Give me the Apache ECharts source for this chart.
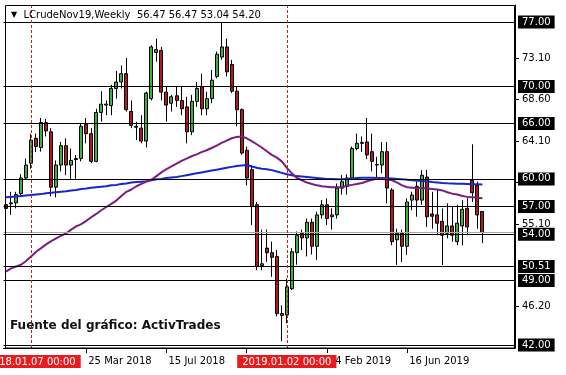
<!DOCTYPE html>
<html><head><meta charset="utf-8">
<script src="https://cdn.jsdelivr.net/npm/echarts@6/dist/echarts.min.js"></script>
<style>html,body{margin:0;padding:0;background:#fff}#c{width:566px;height:375px}</style>
</head><body><div id="c"></div>
<script>
// ---- data ----
const symbolName = 'LCrudeNov19,Weekly';
const lastOHLC = ['56.47', '56.47', '53.04', '54.20'];
const firstWeek = '2017-12-03';   // first weekly bar
const slotCount = 102;            // bars that fit on the chart (incl. empty right margin)

// [open, close, low, high]
const candles = [
  [57.2, 56.8, 54.8, 57.4], [57.3, 57.4, 56.1, 58.6], [57.4, 58.3, 56.8, 58.6], [58.4, 60.1, 58.1, 60.5],
  [60.1, 61.5, 59.9, 62.2], [61.7, 64.2, 61.1, 64.9], [64.4, 63.5, 62.9, 64.9], [63.4, 66.1, 62.95, 66.6],
  [66.1, 65.2, 64.6, 66.5], [65.1, 59.1, 58.1, 65.5], [59.1, 61.5, 58.0, 62.0], [61.5, 63.6, 60.8, 64.0],
  [63.6, 61.5, 60.4, 64.4], [61.5, 62.0, 59.9, 63.3], [62.1, 62.2, 60.0, 62.6], [62.2, 65.7, 61.9, 66.0],
  [65.9, 64.9, 63.85, 66.6], [64.9, 61.9, 61.7, 65.5], [61.9, 67.2, 61.8, 67.6], [67.2, 68.1, 66.2, 69.5],
  [68.0, 68.1, 66.9, 68.5], [67.95, 69.8, 66.9, 70.2], [69.8, 70.5, 68.7, 71.7], [70.5, 71.4, 69.8, 72.3],
  [71.4, 67.5, 67.3, 73.1], [67.3, 65.8, 65.5, 68.5], [65.7, 65.6, 64.2, 66.2], [65.5, 64.1, 63.85, 66.9],
  [64.1, 69.3, 63.4, 69.45], [68.7, 74.3, 68.5, 74.5], [73.7, 74.0, 72.7, 75.2], [73.9, 69.4, 68.5, 74.3],
  [69.4, 68.0, 66.2, 70.0], [68.2, 68.9, 67.3, 69.1], [69.0, 68.5, 67.8, 70.0], [68.5, 67.6, 66.9, 70.0],
  [67.8, 65.1, 63.85, 68.9], [65.1, 68.4, 64.75, 69.1], [68.4, 69.8, 67.8, 70.5], [70.0, 67.6, 66.9, 71.4],
  [67.6, 68.7, 66.9, 69.45], [68.7, 70.7, 68.2, 71.8], [71.1, 73.5, 70.9, 73.8], [73.2, 74.3, 72.9, 76.95],
  [74.3, 71.6, 71.1, 75.2], [72.4, 69.5, 69.3, 72.9], [69.5, 67.5, 65.7, 70.0], [67.5, 62.8, 62.6, 67.65],
  [63.1, 60.1, 59.3, 63.5], [61.0, 57.0, 55.0, 61.5], [57.2, 50.5, 50.1, 57.5], [50.6, 50.8, 50.1, 54.5],
  [52.5, 52.0, 51.0, 54.5], [52.0, 51.5, 49.4, 53.2], [51.6, 45.4, 45.1, 52.3], [45.4, 45.2, 42.4, 46.3],
  [45.25, 48.3, 44.35, 49.2], [48.1, 52.1, 47.95, 52.5], [52.0, 53.9, 50.7, 54.3], [54.1, 53.6, 52.3, 54.5],
  [53.6, 55.3, 51.6, 55.7], [55.3, 52.7, 51.8, 55.7], [52.7, 56.1, 51.2, 56.45], [56.1, 57.2, 55.7, 57.7],
  [57.2, 55.7, 55.0, 57.9], [55.9, 56.1, 54.5, 56.8], [56.1, 59.0, 55.7, 59.5], [59.0, 59.7, 58.3, 60.4],
  [59.2, 60.1, 58.3, 60.5], [60.1, 63.3, 59.9, 63.5], [63.3, 63.85, 63.1, 64.9], [63.85, 63.95, 62.95, 64.6],
  [64.0, 62.6, 62.15, 66.6], [62.95, 61.9, 60.8, 64.9], [61.5, 61.55, 60.2, 62.4], [61.5, 62.95, 60.6, 64.0],
  [62.95, 59.0, 57.35, 64.0], [58.8, 53.2, 52.8, 59.0], [53.4, 54.1, 50.67, 54.6], [54.1, 52.7, 51.0, 54.5],
  [52.7, 57.5, 51.75, 57.9], [57.7, 58.25, 56.6, 58.6], [59.2, 57.7, 55.9, 59.7], [57.7, 60.4, 57.2, 60.96],
  [60.2, 55.9, 54.8, 60.96], [56.2, 55.95, 54.6, 58.6], [56.1, 55.2, 53.9, 58.8], [55.4, 53.9, 50.67, 56.8],
  [54.1, 54.9, 53.56, 57.35], [54.9, 53.9, 53.2, 57.0], [53.2, 55.2, 52.8, 57.2], [54.9, 56.7, 52.8, 57.7],
  [56.8, 54.8, 53.9, 57.9], [59.85, 58.5, 57.5, 63.75], [59.3, 56.1, 54.6, 59.7], [56.47, 54.20, 53.04, 56.47]
];

const maPurple = [
  49.95, 50.3, 50.5, 50.7, 51.1, 51.6, 52.1, 52.5, 52.9, 53.25, 53.55, 53.85, 54.1, 54.5, 54.85, 55.1,
  55.45, 55.85, 56.2, 56.6, 56.95, 57.3, 57.65, 58.15, 58.6, 58.85, 59.2, 59.45, 59.7, 59.9, 60.3, 60.7,
  61.05, 61.35, 61.65, 61.95, 62.2, 62.45, 62.65, 62.9, 63.1, 63.35, 63.6, 63.9, 64.15, 64.4, 64.55, 64.6,
  64.4, 64.1, 63.75, 63.4, 63.0, 62.6, 62.3, 61.9, 61.2, 60.6, 60.1, 59.85, 59.6, 59.45, 59.3, 59.2,
  59.15, 59.1, 59.1, 59.1, 59.25, 59.35, 59.45, 59.55, 59.75, 59.9, 60.05, 60.0, 59.95, 59.85, 59.6, 59.3,
  59.1, 59.05, 59.0, 59.0, 58.95, 58.9, 58.85, 58.75, 58.55, 58.4, 58.3, 58.15, 58.05, 58.0, 57.95, 57.9
];
const maBlue = [
  58.0, 58.05, 58.1, 58.15, 58.2, 58.25, 58.3, 58.35, 58.45, 58.5, 58.55, 58.6, 58.65, 58.75, 58.8, 58.9,
  58.95, 59.05, 59.1, 59.15, 59.2, 59.3, 59.35, 59.45, 59.5, 59.6, 59.65, 59.7, 59.75, 59.85, 59.95, 60.0,
  60.1, 60.15, 60.2, 60.3, 60.4, 60.5, 60.6, 60.7, 60.8, 60.9, 61.0, 61.1, 61.2, 61.3, 61.4, 61.45,
  61.5, 61.35, 61.2, 61.1, 61.05, 60.95, 60.8, 60.65, 60.5, 60.4, 60.3, 60.25, 60.2, 60.15, 60.1, 60.05,
  60.0, 59.98, 59.95, 59.95, 60.0, 60.05, 60.1, 60.13, 60.13, 60.12, 60.1, 60.1, 60.08, 60.05, 60.0, 59.95,
  59.9, 59.85, 59.8, 59.77, 59.72, 59.65, 59.6, 59.55, 59.52, 59.5, 59.48, 59.46, 59.44, 59.42, 59.41, 59.4
];

const levelLines = [77, 70, 66, 60, 57, 54, 50.51, 49, 42];
const bidLine = 54.20;
const priceTicks = [73.10, 68.60, 64.10, 59.60, 55.10, 46.20];
const dateTicks = ['25 Mar 2018', '15 Jul 2018', '4 Nov 2018', '24 Feb 2019', '16 Jun 2019'];
const vLineDates = ['7 Jan 2018', '30 Dec 2018'];
const vLineLabels = ['2018.01.07 00:00', '2019.01.02 00:00'];
const sourceText = 'Fuente del gráfico: ActivTrades';

// ---- build categories ----
const MONTHS = ['Jan','Feb','Mar','Apr','May','Jun','Jul','Aug','Sep','Oct','Nov','Dec'];
const categories = [];
const d0 = Date.parse(firstWeek + 'T00:00:00Z');
for (let i = 0; i < slotCount; i++) {
  const d = new Date(d0 + i * 7 * 86400000);
  categories.push(d.getUTCDate() + ' ' + MONTHS[d.getUTCMonth()] + ' ' + d.getUTCFullYear());
}
const showDate = (idx, val) => dateTicks.indexOf(val) >= 0;
const FONT = 'DejaVu Sans';

const chart = echarts.init(document.getElementById('c'), null, {renderer: 'canvas'});
chart.setOption({
  animation: false,
  backgroundColor: '#fff',
  title: {
    text: '{t|▼}  ' + symbolName + '  ' + lastOHLC.join(' '),
    left: 11, top: 10, padding: 0,
    textStyle: {fontFamily: FONT, fontSize: 10, fontWeight: 'normal', color: '#000',
      rich: {t: {fontFamily: FONT, fontSize: 8, color: '#000'}}}
  },
  grid: {left: 3.5, right: 51, top: 5, bottom: 27, show: false},
  xAxis: {
    type: 'category', data: categories, boundaryGap: true,
    axisLine: {show: true, lineStyle: {color: '#000', width: 1}},
    axisTick: {show: true, alignWithLabel: true, length: 5, interval: showDate, lineStyle: {color: '#000'}},
    axisLabel: {interval: showDate, align: 'left', margin: 8, padding: [0, 0, 0, 2],
      color: '#000', fontFamily: FONT, fontSize: 10},
    splitLine: {show: false}
  },
  yAxis: {
    type: 'value', position: 'right', min: 41.675, max: 78.842, scale: true,
    axisLine: {show: true, lineStyle: {color: '#000', width: 1}},
    axisTick: {show: true, length: 4, customValues: priceTicks, lineStyle: {color: '#000'}},
    axisLabel: {customValues: priceTicks, formatter: v => v.toFixed(2), margin: 7,
      color: '#000', fontFamily: FONT, fontSize: 10},
    splitLine: {show: false}
  },
  series: [
    {
      type: 'line', data: categories.map(() => '-'), z: 1, silent: true,
      markLine: {
        silent: true, symbol: ['none', 'none'], animation: false,
        lineStyle: {color: '#000', width: 1.2, type: 'solid'},
        label: {show: true, position: 'end', distance: 3, formatter: p => p.value.toFixed(2),
          backgroundColor: '#000', color: '#fff', padding: [2, 4, 1, 4],
          fontFamily: FONT, fontSize: 10},
        data: levelLines.map(v => ({yAxis: v})).concat([
          {yAxis: bidLine, lineStyle: {color: '#a8a8a8', width: 1}, label: {show: false}}
        ])
      }
    },
    {
      type: 'candlestick', data: candles, barWidth: 3.5, z: 3,
      itemStyle: {color: '#3cb043', color0: '#b3191c', borderColor: '#000', borderColor0: '#000', borderWidth: 1}
    },
    {
      type: 'line', data: maBlue, showSymbol: false, z: 4, silent: true,
      lineStyle: {color: '#1428c8', width: 2}
    },
    {
      type: 'line', data: maPurple, showSymbol: false, z: 4, silent: true,
      lineStyle: {color: '#7d1c80', width: 2}
    },
    {
      type: 'line', data: categories.map(() => '-'), z: 5, silent: true,
      markLine: {
        silent: true, symbol: ['none', 'none'], animation: false,
        lineStyle: {color: '#b8262a', width: 1, type: [3, 2]},
        label: {show: true, position: 'start', distance: 7,
          backgroundColor: '#ea1b1f', color: '#fff', padding: [2, 5, 1, 5],
          fontFamily: FONT, fontSize: 10},
        data: vLineDates.map((d, i) => ({xAxis: d, label: {formatter: vLineLabels[i]}}))
      }
    }
  ],
  graphic: [
    {type: 'rect', silent: true, z: 10, shape: {x: 5.5, y: 5.5, width: 509, height: 342.5},
      style: {fill: null, stroke: '#000', lineWidth: 1}},
    {type: 'text', silent: true, z: 10, left: 10, top: 320,
      style: {text: sourceText, font: 'bold 12px "DejaVu Sans"', fill: '#111'}}
  ]
});
</script>
</body></html>
